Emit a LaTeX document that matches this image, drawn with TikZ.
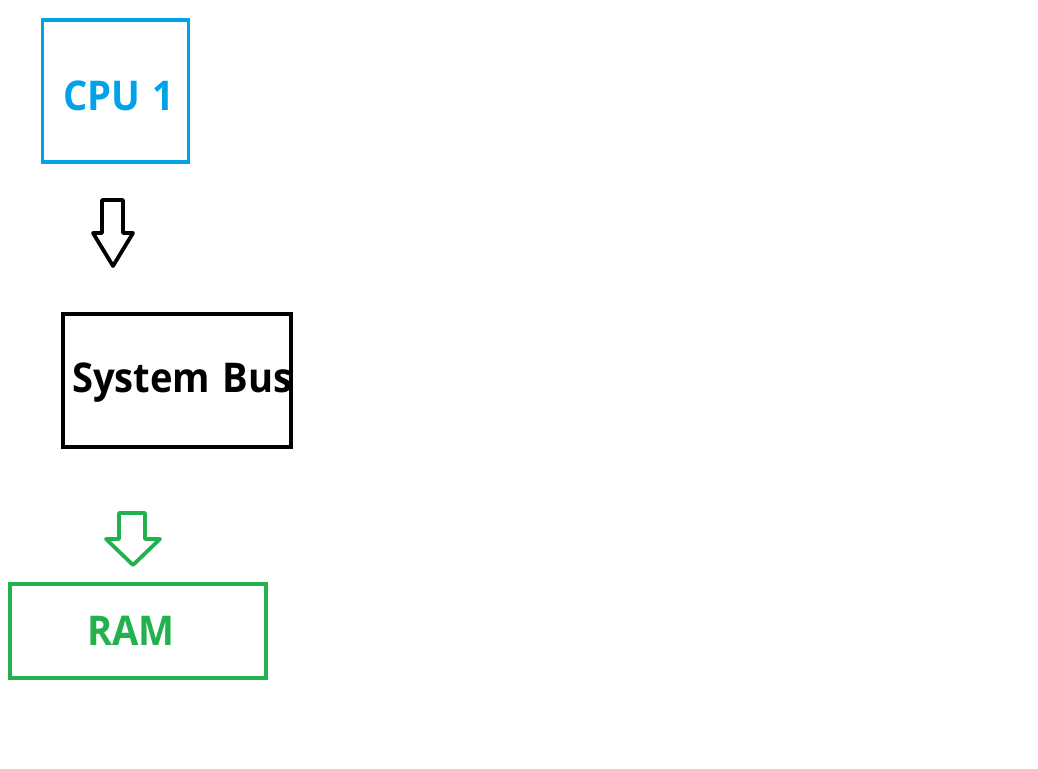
\documentclass[tikz,border=0pt]{standalone}
\usepackage{fontspec}
\setmainfont[FakeStretch=0.93,WordSpace=1.25]{Open Sans}
\definecolor{paintblue}{RGB}{0,162,232}
\definecolor{paintgreen}{RGB}{34,177,76}
\begin{document}
\begin{tikzpicture}[x=1pt,y=-1pt,
  boxstyle/.style={draw,line width=4pt,inner sep=0pt},
  lbl/.style={font=\fontsize{41}{41}\selectfont\bfseries,anchor=base west,inner sep=0pt},
  arr/.style={line width=3.8pt,line join=round,fill=white}]
\path[use as bounding box] (0,0) rectangle (1038,768);
% CPU box
\node[boxstyle,draw=paintblue,line width=3.5pt,minimum width=146pt,minimum height=142pt] (cpu) at (115.5,91) {};
\node[lbl,text=paintblue] (cputxt) at (63,110) {CPU 1};
% black arrow
\draw[arr] (102,200) -- (123,200) -- (123,233) -- (133,233) -- (113,266) -- (93,233) -- (102,233) -- cycle;
% System Bus box
\node[boxstyle,draw=black,minimum width=228pt,minimum height=133pt] (bus) at (176.5,380.5) {};
\node[lbl,text=black] (bustxt) at (72,392) {System Bus};
% green arrow
\draw[arr,draw=paintgreen] (119,513) -- (145,513) -- (145,539) -- (160,539) -- (133,565) -- (106,539) -- (119,539) -- cycle;
% RAM box
\node[boxstyle,draw=paintgreen,minimum width=256pt,minimum height=94pt] (ram) at (138,630.5) {};
\node[lbl,text=paintgreen] (ramtxt) at (87,645) {RAM};
\end{tikzpicture}
\end{document}
